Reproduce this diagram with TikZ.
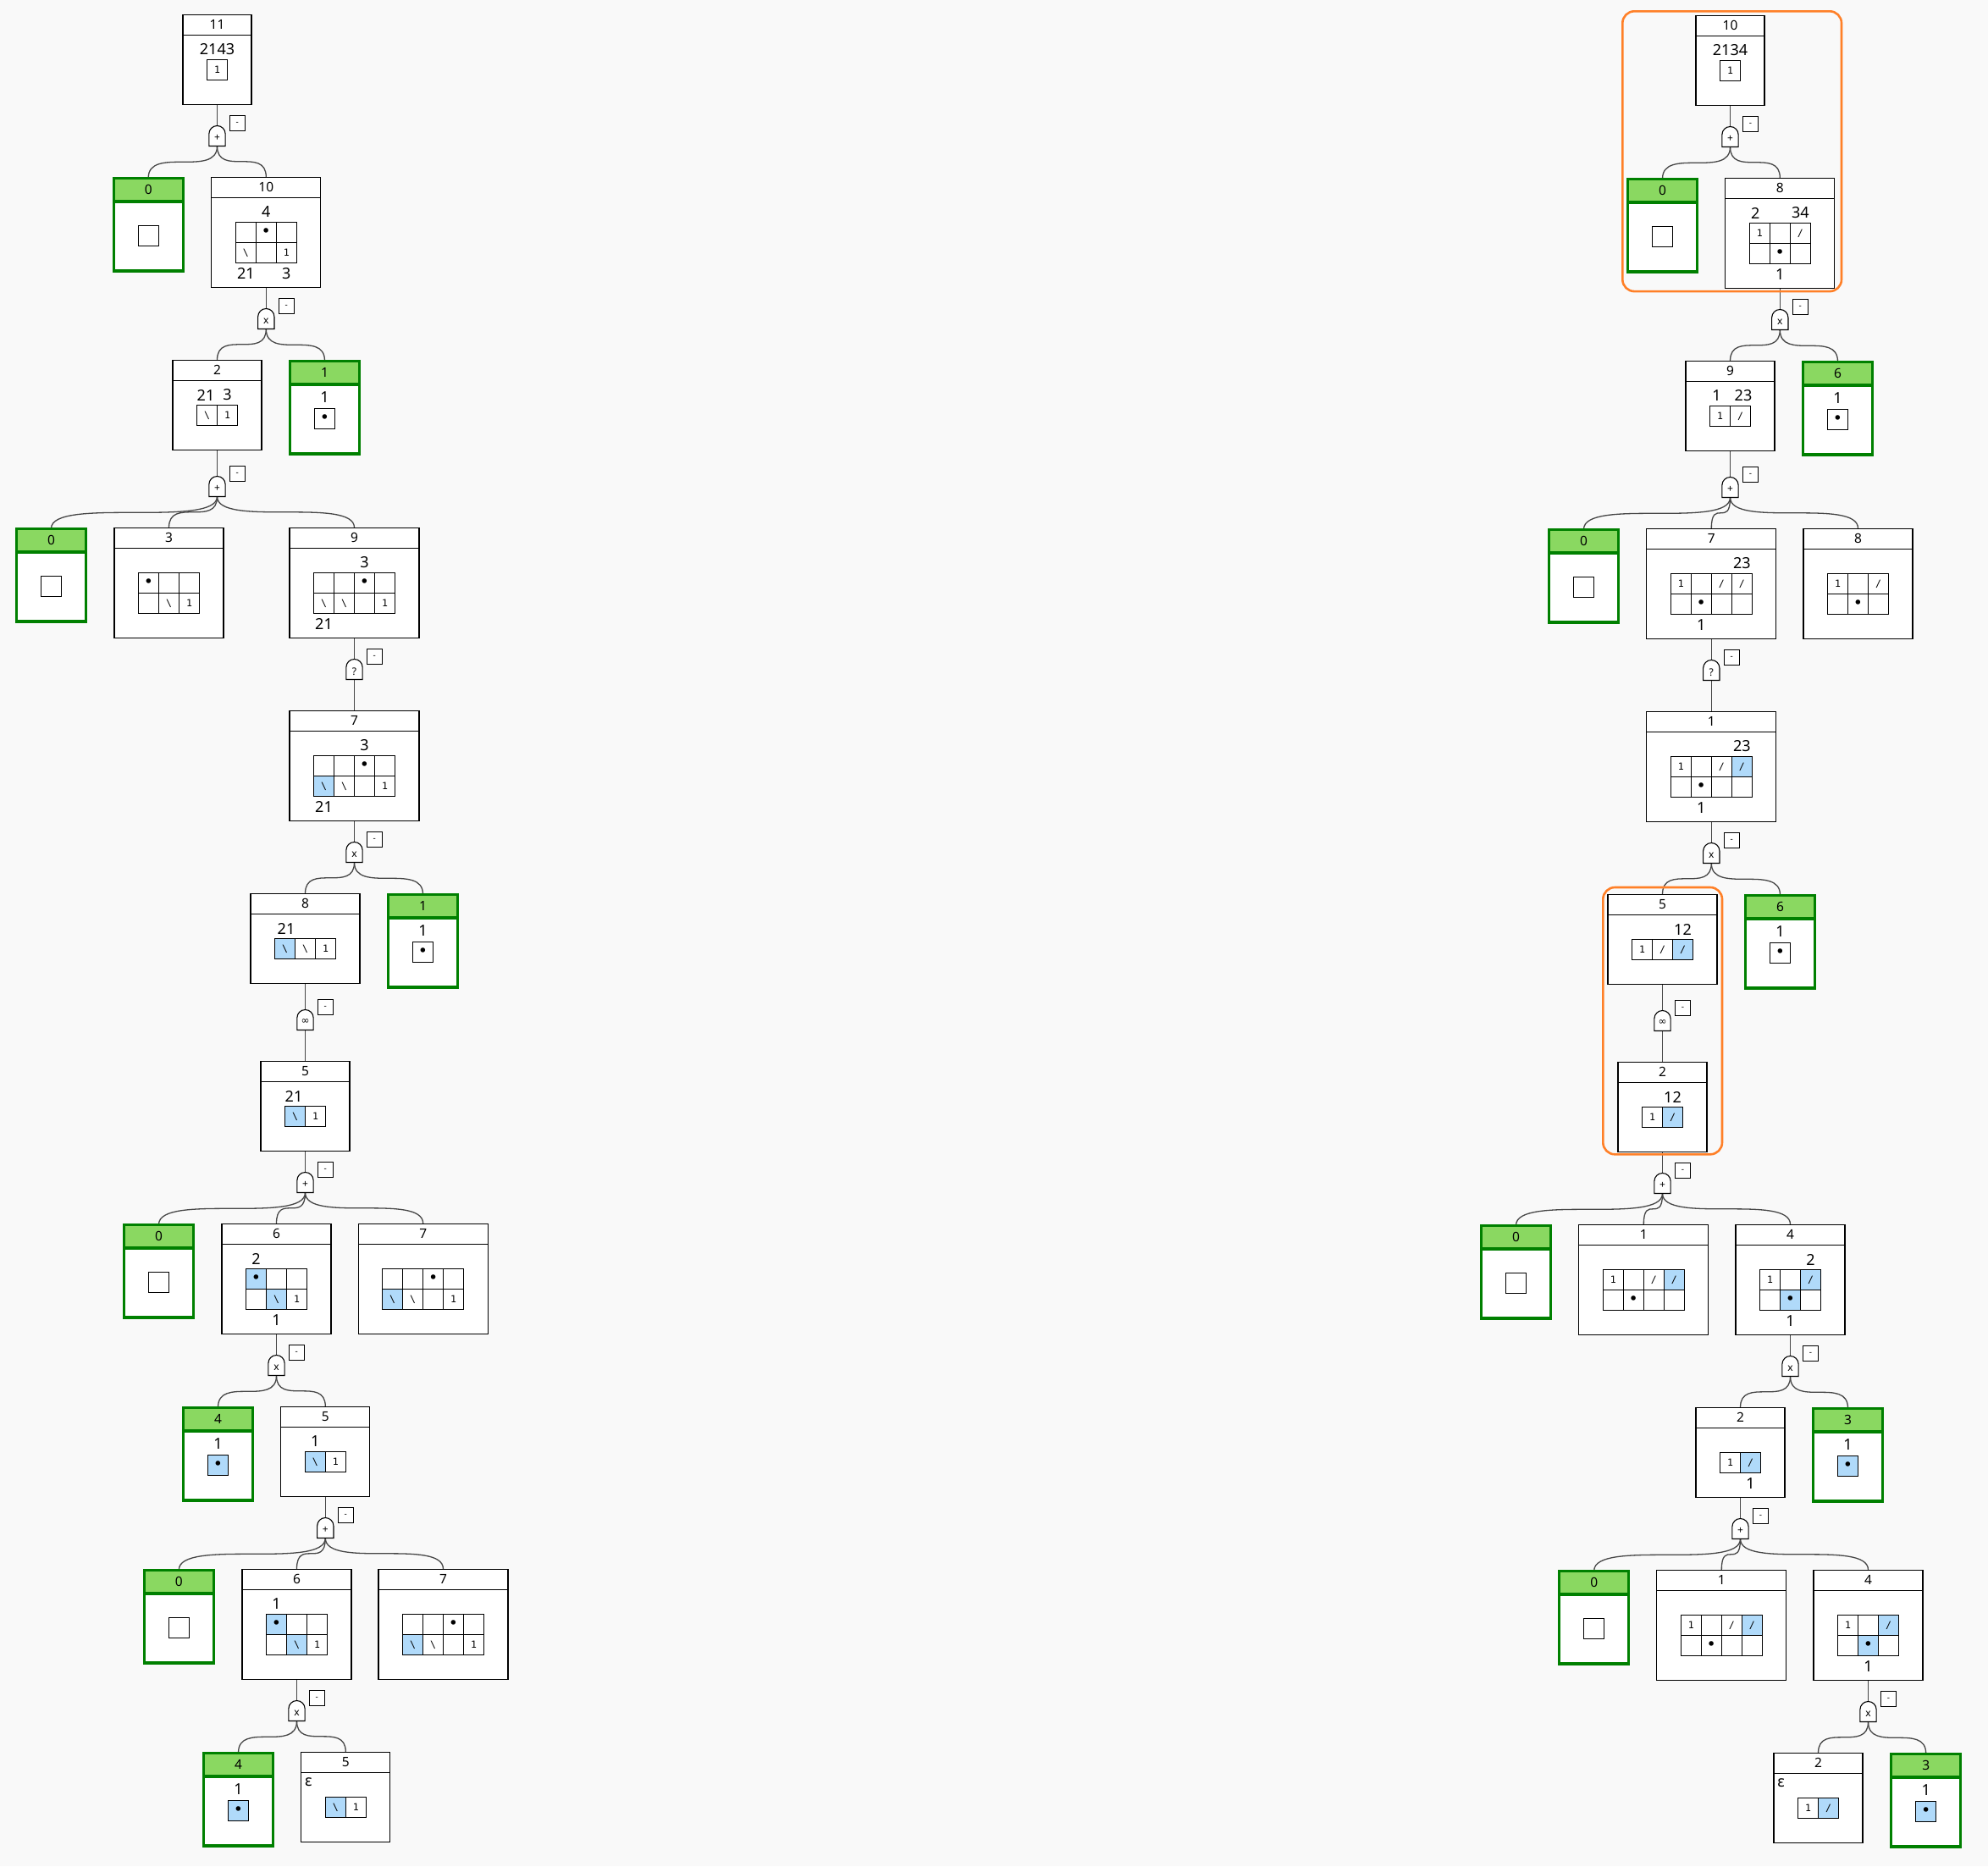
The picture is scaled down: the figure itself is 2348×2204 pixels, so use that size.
\documentclass[tikz,border=0pt]{standalone}
\usepackage{fontspec}
\setmainfont{Noto Sans}
\newfontfamily\monof{DejaVu Sans Mono}
\newfontfamily\djv{DejaVu Sans}
\usetikzlibrary{calc}
\definecolor{bgc}{RGB}{249,249,249}
\definecolor{cb}{RGB}{176,218,250}
\definecolor{cw}{RGB}{255,255,255}
\definecolor{ghead}{RGB}{138,216,97}
\definecolor{gbord}{RGB}{0,128,0}
\definecolor{orng}{RGB}{255,128,40}
\definecolor{connc}{RGB}{70,70,70}
\pgfdeclarelayer{bg}\pgfdeclarelayer{edges}\pgfsetlayers{bg,edges,main}
\newcounter{nn}
\tikzset{
 pbox/.style={draw=black, line width=1.2pt, fill=white, inner sep=0pt, outer sep=0pt, anchor=north},
 gbx/.style={draw=gbord, line width=3.2pt, fill=white, inner sep=0pt, outer sep=0pt, anchor=north, minimum width=82pt, minimum height=109.8pt},
 ttl/.style={font=\fontsize{15.5}{17}\selectfont, inner sep=0pt},
 lbl/.style={font=\fontsize{18}{20}\selectfont, inner sep=0pt},
 cellst/.style={draw=black, line width=1.2pt, minimum width=24pt, minimum height=24pt, inner sep=0pt, outer sep=0pt, font=\monof\fontsize{11.5}{12}\selectfont},
 conn/.style={draw=connc, line width=1.3pt},
 gatest/.style={draw=black, line width=1.1pt, fill=white},
 gsym/.style={inner sep=0pt, font=\fontsize{12}{12}\selectfont},
 mbox/.style={draw=black, line width=1.1pt, fill=white, minimum width=18pt, minimum height=18pt, inner sep=0pt, outer sep=0pt, font=\fontsize{10}{10}\selectfont},
 orect/.style={draw=orng, line width=2.6pt, rounded corners=14pt},
}
\newcommand{\dt}{{\djv\fontsize{19}{19}\selectfont\raisebox{-1.5pt}{•}}}
\newcommand{\bs}{\textbackslash}
\newcommand{\slsh}{/}
% normal box: name, cx, T, ncols, nrows, title
\newcommand{\tbox}[6]{%
 \node[pbox, minimum width={57+24*#4}, minimum height={82+24*#5}] (#1) at (#2,#3+0.6) {};
 \draw[line width=1.2pt] ($(#1.north west)+(0,24.4)$) -- ($(#1.north east)+(0,24.4)$);
 \node[ttl] (#1t) at ($(#1.north)+(0,12)$) {#6};}
% green box: name, cx, T, title
\newcommand{\gbox}[4]{%
 \node[gbx] (#1) at (#2,#3+1.6) {};
 \fill[ghead] ($(#1.north west)+(1.6,1.6)$) rectangle ($(#1.north east)+(-1.6,27.9)$);
 \draw[draw=gbord, line width=3.2pt] ($(#1.north west)+(0,27.9)$) -- ($(#1.north east)+(0,27.9)$);
 \node[ttl] (#1t) at ($(#1.north)+(0,13.6)$) {#4};}
\newcommand{\gempty}[2]{\stepcounter{nn}\node[cellst, fill=white] (c\arabic{nn}) at (#1,#2+70) {};}
\newcommand{\gone}[3][cw]{\stepcounter{nn}\node[lbl] (l\arabic{nn}) at (#2,#3+45) {1};
 \stepcounter{nn}\node[cellst, fill=#1] (c\arabic{nn}) at (#2,#3+70) {\dt};}
% cell: [fill] cx, ncols, T, col, row, text
\newcommand{\cel}[7][cw]{\stepcounter{nn}\node[cellst, fill=#1] (c\arabic{nn}) at ({#2-12*#3+24*#5-12},{#4+54+24*#6-12}) {#7};}
% row of cells: cx, ncols, T, row, list fill/text
\newcommand{\crow}[5]{\foreach \f/\t [count=\c] in {#5} {\cel[\f]{#1}{#2}{#3}{\c}{#4}{\t}}}
% label above: cx, n, T, col, dx, text
\newcommand{\labA}[6]{\stepcounter{nn}\node[lbl] (l\arabic{nn}) at ({#1-12*#2+24*#4-12+#5},{#3+42}) {#6};}
% label below: cx, n, T, col, rows, text
\newcommand{\labB}[6]{\stepcounter{nn}\node[lbl] (l\arabic{nn}) at ({#1-12*#2+24*#4-12},{#3+54+24*#5+12.5}) {#6};}
% epsilon: cx, n, T
\newcommand{\eps}[3]{\stepcounter{nn}\node[lbl] (l\arabic{nn}) at ({#1-12*#2-29+9},{#3+36}) {ε};}
% gate: name, gx, gtop, symbol
\newcommand{\gate}[4]{%
 \draw[gatest] (#2-9.65,#3+24) -- (#2-9.65,#3+9.65) arc[start angle=180,end angle=0,radius=9.65pt] -- (#2+9.65,#3+24) -- cycle;
 \node[gsym] (#1) at (#2,#3+14.5) {#4};
 \coordinate (#1t) at (#2,#3);
 \coordinate (#1b) at (#2,#3+24);
 \node[mbox] (#1m) at (#2+23.85,#3-3) {\raisebox{-2.5pt}{-}};}
\newcommand{\pe}[2]{\draw[conn] (#1.south) -- (#2t);}
\newcommand{\ce}[2]{\draw[conn] (#1b) .. controls (#1b |- #2.north) and (#2.north |- #1b) .. (#2.north);}
\begin{document}
\begin{tikzpicture}[x=1pt,y=-1pt]
\useasboundingbox (0,0) rectangle (2348,2204);
\begin{pgfonlayer}{bg}\fill[bgc] (0,0) rectangle (2348,2204);\end{pgfonlayer}
% ================= LEFT TREE =================
\tbox{A0}{256.5}{16.5}{1}{1}{11}
\labA{256.5}{1}{16.5}{1}{0}{2143}
\crow{256.5}{1}{16.5}{1}{cw/1}
\gate{gA0}{256.5}{148.5}{+}
\gbox{A1a}{175.2}{208.5}{0}\gempty{175.2}{208.5}
\tbox{A1b}{314.3}{208.5}{3}{2}{10}
\crow{314.3}{3}{208.5}{1}{cw/{},cw/\dt,cw/{}}
\crow{314.3}{3}{208.5}{2}{cw/\bs,cw/{},cw/1}
\labA{314.3}{3}{208.5}{2}{0}{4}
\labB{314.3}{3}{208.5}{1}{2}{21}
\labB{314.3}{3}{208.5}{3}{2}{3}
\gate{gA1}{314.3}{364.5}{x}
\tbox{A2a}{256.5}{424.5}{2}{1}{2}
\crow{256.5}{2}{424.5}{1}{cw/\bs,cw/1}
\labA{256.5}{2}{424.5}{1}{-1.5}{21}
\labA{256.5}{2}{424.5}{2}{0}{3}
\gbox{A2b}{383.5}{424.5}{1}\gone{383.5}{424.5}
\gate{gA2}{256.5}{562.5}{+}
\gbox{A3a}{60.5}{622.5}{0}\gempty{60.5}{622.5}
\tbox{A3b}{199.5}{622.5}{3}{2}{3}
\crow{199.5}{3}{622.5}{1}{cw/\dt,cw/{},cw/{}}
\crow{199.5}{3}{622.5}{2}{cw/{},cw/\bs,cw/1}
\tbox{A3c}{418.5}{622.5}{4}{2}{9}
\crow{418.5}{4}{622.5}{1}{cw/{},cw/{},cw/\dt,cw/{}}
\crow{418.5}{4}{622.5}{2}{cw/\bs,cw/\bs,cw/{},cw/1}
\labA{418.5}{4}{622.5}{3}{0}{3}
\labB{418.5}{4}{622.5}{1}{2}{21}
\gate{gA3}{418.5}{778.5}{?}
\tbox{A4}{418.5}{838.5}{4}{2}{7}
\crow{418.5}{4}{838.5}{1}{cw/{},cw/{},cw/\dt,cw/{}}
\crow{418.5}{4}{838.5}{2}{cb/\bs,cw/\bs,cw/{},cw/1}
\labA{418.5}{4}{838.5}{3}{0}{3}
\labB{418.5}{4}{838.5}{1}{2}{21}
\gate{gA4}{418.5}{994.5}{x}
\tbox{A5a}{360.5}{1054.5}{3}{1}{8}
\crow{360.5}{3}{1054.5}{1}{cb/\bs,cw/\bs,cw/1}
\labA{360.5}{3}{1054.5}{1}{1.5}{21}
\gbox{A5b}{499.5}{1054.5}{1}\gone{499.5}{1054.5}
\gate{gA5}{360.5}{1192.5}{{\djv ∞}}
\tbox{A6}{360.5}{1252.5}{2}{1}{5}
\crow{360.5}{2}{1252.5}{1}{cb/\bs,cw/1}
\labA{360.5}{2}{1252.5}{1}{-1.5}{21}
\gate{gA6}{360.5}{1384.5}{+}
\gbox{A7a}{187.5}{1444.5}{0}\gempty{187.5}{1444.5}
\tbox{A7b}{326.5}{1444.5}{3}{2}{6}
\crow{326.5}{3}{1444.5}{1}{cb/\dt,cw/{},cw/{}}
\crow{326.5}{3}{1444.5}{2}{cw/{},cb/\bs,cw/1}
\labA{326.5}{3}{1444.5}{1}{0}{2}
\labB{326.5}{3}{1444.5}{2}{2}{1}
\tbox{A7c}{499.7}{1444.5}{4}{2}{7}
\crow{499.7}{4}{1444.5}{1}{cw/{},cw/{},cw/\dt,cw/{}}
\crow{499.7}{4}{1444.5}{2}{cb/\bs,cw/\bs,cw/{},cw/1}
\gate{gA7}{326.5}{1600.5}{x}
\gbox{A8a}{257.5}{1660.5}{4}\gone[cb]{257.5}{1660.5}
\tbox{A8b}{384.3}{1660.5}{2}{1}{5}
\crow{384.3}{2}{1660.5}{1}{cb/\bs,cw/1}
\labA{384.3}{2}{1660.5}{1}{0}{1}
\gate{gA8}{384.3}{1792.5}{+}
\gbox{A9a}{211.3}{1852.5}{0}\gempty{211.3}{1852.5}
\tbox{A9b}{350.5}{1852.5}{3}{2}{6}
\crow{350.5}{3}{1852.5}{1}{cb/\dt,cw/{},cw/{}}
\crow{350.5}{3}{1852.5}{2}{cw/{},cb/\bs,cw/1}
\labA{350.5}{3}{1852.5}{1}{0}{1}
\tbox{A9c}{523.5}{1852.5}{4}{2}{7}
\crow{523.5}{4}{1852.5}{1}{cw/{},cw/{},cw/\dt,cw/{}}
\crow{523.5}{4}{1852.5}{2}{cb/\bs,cw/\bs,cw/{},cw/1}
\gate{gA9}{350.5}{2008.5}{x}
\gbox{A10a}{281.5}{2068.5}{4}\gone[cb]{281.5}{2068.5}
\tbox{A10b}{408.3}{2068.5}{2}{1}{5}
\crow{408.3}{2}{2068.5}{1}{cb/\bs,cw/1}
\eps{408.3}{2}{2068.5}
% ================= RIGHT TREE =================
\tbox{B0}{2043.5}{17.5}{1}{1}{10}
\labA{2043.5}{1}{17.5}{1}{0}{2134}
\crow{2043.5}{1}{17.5}{1}{cw/1}
\gate{gB0}{2043.5}{149.5}{+}
\gbox{B1a}{1963.5}{209.5}{0}\gempty{1963.5}{209.5}
\tbox{B1b}{2102.3}{209.5}{3}{2}{8}
\crow{2102.3}{3}{209.5}{1}{cw/1,cw/{},cw/\slsh}
\crow{2102.3}{3}{209.5}{2}{cw/{},cw/\dt,cw/{}}
\labA{2102.3}{3}{209.5}{1}{-5}{2}
\labA{2102.3}{3}{209.5}{3}{0}{34}
\labB{2102.3}{3}{209.5}{2}{2}{1}
\gate{gB1}{2102.3}{365.5}{x}
\tbox{B2a}{2043.5}{425.5}{2}{1}{9}
\crow{2043.5}{2}{425.5}{1}{cw/1,cw/\slsh}
\labA{2043.5}{2}{425.5}{1}{-4}{1}
\labA{2043.5}{2}{425.5}{2}{3.5}{23}
\gbox{B2b}{2170.5}{425.5}{6}\gone{2170.5}{425.5}
\gate{gB2}{2043.5}{563.5}{+}
\gbox{B3a}{1870.5}{623.5}{0}\gempty{1870.5}{623.5}
\tbox{B3b}{2021.3}{623.5}{4}{2}{7}
\crow{2021.3}{4}{623.5}{1}{cw/1,cw/{},cw/\slsh,cw/\slsh}
\crow{2021.3}{4}{623.5}{2}{cw/{},cw/\dt,cw/{},cw/{}}
\labA{2021.3}{4}{623.5}{4}{0}{23}
\labB{2021.3}{4}{623.5}{2}{2}{1}
\tbox{B3c}{2194.5}{623.5}{3}{2}{8}
\crow{2194.5}{3}{623.5}{1}{cw/1,cw/{},cw/\slsh}
\crow{2194.5}{3}{623.5}{2}{cw/{},cw/\dt,cw/{}}
\gate{gB3}{2021.3}{779.5}{?}
\tbox{B4}{2021.3}{839.5}{4}{2}{1}
\crow{2021.3}{4}{839.5}{1}{cw/1,cw/{},cw/\slsh,cb/\slsh}
\crow{2021.3}{4}{839.5}{2}{cw/{},cw/\dt,cw/{},cw/{}}
\labA{2021.3}{4}{839.5}{4}{0}{23}
\labB{2021.3}{4}{839.5}{2}{2}{1}
\gate{gB4}{2021.3}{995.5}{x}
\tbox{B5a}{1963.5}{1055.5}{3}{1}{5}
\crow{1963.5}{3}{1055.5}{1}{cw/1,cw/\slsh,cb/\slsh}
\labA{1963.5}{3}{1055.5}{3}{0}{12}
\gbox{B5b}{2102.5}{1055.5}{6}\gone{2102.5}{1055.5}
\gate{gB5}{1963.5}{1193.5}{{\djv ∞}}
\tbox{B6}{1963.5}{1253.5}{2}{1}{2}
\crow{1963.5}{2}{1253.5}{1}{cw/1,cb/\slsh}
\labA{1963.5}{2}{1253.5}{2}{0}{12}
\gate{gB6}{1963.5}{1385.5}{+}
\gbox{B7a}{1790.5}{1445.5}{0}\gempty{1790.5}{1445.5}
\tbox{B7b}{1941.3}{1445.5}{4}{2}{1}
\crow{1941.3}{4}{1445.5}{1}{cw/1,cw/{},cw/\slsh,cb/\slsh}
\crow{1941.3}{4}{1445.5}{2}{cw/{},cw/\dt,cw/{},cw/{}}
\tbox{B7c}{2114.5}{1445.5}{3}{2}{4}
\crow{2114.5}{3}{1445.5}{1}{cw/1,cw/{},cb/\slsh}
\crow{2114.5}{3}{1445.5}{2}{cw/{},cb/\dt,cw/{}}
\labA{2114.5}{3}{1445.5}{3}{0}{2}
\labB{2114.5}{3}{1445.5}{2}{2}{1}
\gate{gB7}{2114.5}{1601.5}{x}
\tbox{B8a}{2055.5}{1661.5}{2}{1}{2}
\crow{2055.5}{2}{1661.5}{1}{cw/1,cb/\slsh}
\labB{2055.5}{2}{1661.5}{2}{1}{1}
\gbox{B8b}{2182.5}{1661.5}{3}\gone[cb]{2182.5}{1661.5}
\gate{gB8}{2055.5}{1793.5}{+}
\gbox{B9a}{1882.7}{1853.5}{0}\gempty{1882.7}{1853.5}
\tbox{B9b}{2033.3}{1853.5}{4}{2}{1}
\crow{2033.3}{4}{1853.5}{1}{cw/1,cw/{},cw/\slsh,cb/\slsh}
\crow{2033.3}{4}{1853.5}{2}{cw/{},cw/\dt,cw/{},cw/{}}
\tbox{B9c}{2206.5}{1853.5}{3}{2}{4}
\crow{2206.5}{3}{1853.5}{1}{cw/1,cw/{},cb/\slsh}
\crow{2206.5}{3}{1853.5}{2}{cw/{},cb/\dt,cw/{}}
\labB{2206.5}{3}{1853.5}{2}{2}{1}
\gate{gB9}{2206.5}{2009.5}{x}
\tbox{B10a}{2147.5}{2069.5}{2}{1}{2}
\crow{2147.5}{2}{2069.5}{1}{cw/1,cb/\slsh}
\eps{2147.5}{2}{2069.5}
\gbox{B10b}{2274.7}{2069.5}{3}\gone[cb]{2274.7}{2069.5}
% orange highlight frames
\draw[orect] (1916.3,13.3) rectangle (2175,344.1);
\draw[orect] (1893.3,1048) rectangle (2034,1363.3);
% ================= CONNECTORS =================
\begin{pgfonlayer}{edges}
\pe{A0}{gA0}\ce{gA0}{A1a}\ce{gA0}{A1b}
\pe{A1b}{gA1}\ce{gA1}{A2a}\ce{gA1}{A2b}
\pe{A2a}{gA2}\ce{gA2}{A3a}\ce{gA2}{A3b}\ce{gA2}{A3c}
\pe{A3c}{gA3}\ce{gA3}{A4}
\pe{A4}{gA4}\ce{gA4}{A5a}\ce{gA4}{A5b}
\pe{A5a}{gA5}\ce{gA5}{A6}
\pe{A6}{gA6}\ce{gA6}{A7a}\ce{gA6}{A7b}\ce{gA6}{A7c}
\pe{A7b}{gA7}\ce{gA7}{A8a}\ce{gA7}{A8b}
\pe{A8b}{gA8}\ce{gA8}{A9a}\ce{gA8}{A9b}\ce{gA8}{A9c}
\pe{A9b}{gA9}\ce{gA9}{A10a}\ce{gA9}{A10b}
\pe{B0}{gB0}\ce{gB0}{B1a}\ce{gB0}{B1b}
\pe{B1b}{gB1}\ce{gB1}{B2a}\ce{gB1}{B2b}
\pe{B2a}{gB2}\ce{gB2}{B3a}\ce{gB2}{B3b}\ce{gB2}{B3c}
\pe{B3b}{gB3}\ce{gB3}{B4}
\pe{B4}{gB4}\ce{gB4}{B5a}\ce{gB4}{B5b}
\pe{B5a}{gB5}\ce{gB5}{B6}
\pe{B6}{gB6}\ce{gB6}{B7a}\ce{gB6}{B7b}\ce{gB6}{B7c}
\pe{B7c}{gB7}\ce{gB7}{B8a}\ce{gB7}{B8b}
\pe{B8a}{gB8}\ce{gB8}{B9a}\ce{gB8}{B9b}\ce{gB8}{B9c}
\pe{B9c}{gB9}\ce{gB9}{B10a}\ce{gB9}{B10b}
\end{pgfonlayer}
\end{tikzpicture}
\end{document}
